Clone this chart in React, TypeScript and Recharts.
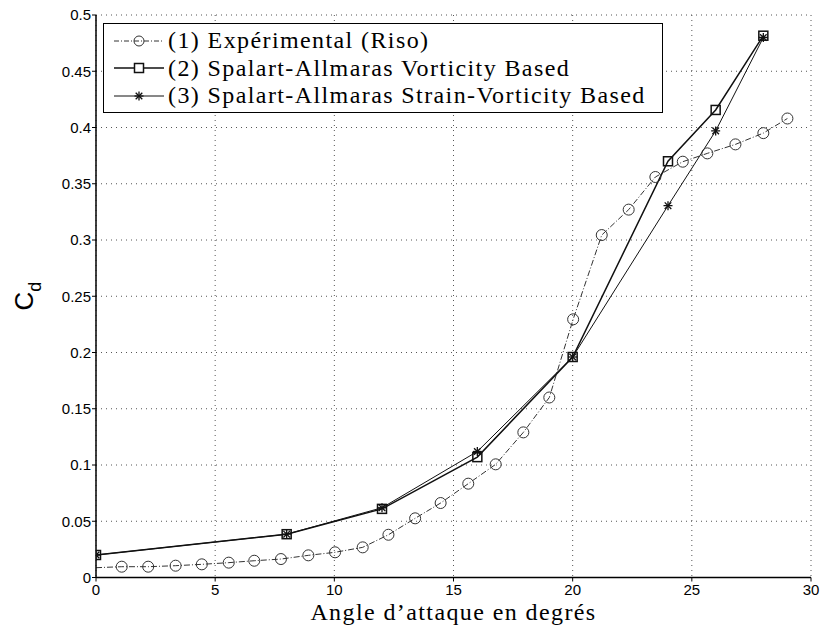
import React from 'react';
import { LineChart, Line, XAxis, YAxis, CartesianGrid } from 'recharts';

const expX = [0, 1.08, 2.19, 3.34, 4.44, 5.57, 6.64, 7.76, 8.91, 10.03, 11.19, 12.27, 13.39, 14.46, 15.62, 16.77, 17.93, 19.02, 20.02, 21.22, 22.35, 23.47, 24.62, 25.65, 26.83, 28.0, 29.01];
const expY = [0.0087, 0.0096, 0.0096, 0.0105, 0.0117, 0.0132, 0.0149, 0.0164, 0.0197, 0.0224, 0.0268, 0.038, 0.0526, 0.0662, 0.0834, 0.1006, 0.129, 0.16, 0.2295, 0.3044, 0.327, 0.356, 0.3696, 0.377, 0.385, 0.395, 0.408];
const saX = [0, 8, 12, 16, 20, 24, 26, 28];
const vortY = [0.02, 0.0385, 0.061, 0.107, 0.196, 0.37, 0.4156, 0.4816];
const strainY = [0.02, 0.0385, 0.062, 0.112, 0.196, 0.3305, 0.397, 0.48];
const xTicks = [0, 5, 10, 15, 20, 25, 30];
const yTicks = [0, 0.05, 0.1, 0.15, 0.2, 0.25, 0.3, 0.35, 0.4, 0.45, 0.5];
const legendLabels = [
  '(1) Expérimental (Riso)',
  '(2) Spalart-Allmaras Vorticity Based',
  '(3) Spalart-Allmaras Strain-Vorticity Based',
];

const expData = expX.map((x, i) => ({ x, y: expY[i] }));
const vortData = saX.map((x, i) => ({ x, y: vortY[i] }));
const strainData = saX.map((x, i) => ({ x, y: strainY[i] }));

const SERIF = "'Liberation Serif', 'Times New Roman', serif";
const SANS = "'Liberation Sans', Arial, sans-serif";

const CircleDot = (props: any) => {
  const { cx, cy, index } = props;
  if (index === 0 || cx == null) return <g key={`c${index}`} />;
  return <circle key={`c${index}`} cx={cx} cy={cy} r={5.5} fill="none" stroke="#333" strokeWidth={1} />;
};
const SquareDot = (props: any) => {
  const { cx, cy, index } = props;
  if (cx == null) return <g key={`s${index}`} />;
  return <rect key={`s${index}`} x={cx - 4.5} y={cy - 4.5} width={9} height={9} fill="none" stroke="#111" strokeWidth={1.5} />;
};
const Star = ({ cx, cy, k }: any) => (
  <g key={k} stroke="#111" strokeWidth={1.3}>
    <line x1={cx - 4.5} y1={cy} x2={cx + 4.5} y2={cy} />
    <line x1={cx} y1={cy - 4.5} x2={cx} y2={cy + 4.5} />
    <line x1={cx - 3.3} y1={cy - 3.3} x2={cx + 3.3} y2={cy + 3.3} />
    <line x1={cx - 3.3} y1={cy + 3.3} x2={cx + 3.3} y2={cy - 3.3} />
  </g>
);
const StarDot = (props: any) => {
  const { cx, cy, index } = props;
  if (cx == null) return <g key={`t${index}`} />;
  return <Star cx={cx} cy={cy} k={`t${index}`} />;
};

const XLabel = (props: any) => {
  const vb = props.viewBox || {};
  return (
    <text x={vb.x + vb.width / 2} y={vb.y + 42} textAnchor="middle" fontFamily={SERIF} fontSize={24} letterSpacing={1.4} fill="#000">
      Angle d’attaque en degrés
    </text>
  );
};
const YLabel = () => (
  <text x={33} y={296} transform="rotate(-90, 33, 296)" textAnchor="middle" fontFamily={SANS} fontSize={26} fill="#000">
    C<tspan fontSize={18} dy={8}>d</tspan>
  </text>
);

const LegendBox = () => {
  const rows = [
    (
      <svg width={50} height={14}>
        <line x1={0} y1={7} x2={50} y2={7} stroke="#333" strokeWidth={1} strokeDasharray="5 2 1 2" />
        <circle cx={25} cy={7} r={5} fill="none" stroke="#333" />
      </svg>
    ),
    (
      <svg width={50} height={14}>
        <line x1={0} y1={7} x2={50} y2={7} stroke="#111" strokeWidth={1.5} />
        <rect x={20.5} y={2.5} width={9} height={9} fill="white" stroke="#111" strokeWidth={1.5} />
      </svg>
    ),
    (
      <svg width={50} height={14}>
        <line x1={0} y1={7} x2={50} y2={7} stroke="#111" strokeWidth={1} />
        <Star cx={25} cy={7} k="ls" />
      </svg>
    ),
  ];
  return (
    <div
      style={{
        position: 'absolute',
        left: 103,
        top: 23,
        width: 558,
        height: 88,
        border: '1.5px solid #000',
        background: '#fff',
        fontFamily: SERIF,
        fontSize: 24,
        letterSpacing: 1.4,
        color: '#000',
        boxSizing: 'content-box',
      }}
    >
      {legendLabels.map((t, i) => (
        <div key={t} style={{ position: 'absolute', left: 10, top: 3 + i * 27.5, height: 27, display: 'flex', alignItems: 'center', whiteSpace: 'nowrap' }}>
          {rows[i]}
          <span style={{ marginLeft: 4 }}>{t}</span>
        </div>
      ))}
    </div>
  );
};

export default function App() {
  return (
    <div style={{ position: 'absolute', left: 0, top: 0, width: 822, height: 631, background: '#fff' }}>
      <LineChart width={822} height={631} margin={{ top: 15, right: 11, bottom: 0, left: 0 }}>
        <CartesianGrid stroke="#555" strokeDasharray="1 4" />
        <XAxis
          dataKey="x"
          type="number"
          domain={[0, 30]}
          ticks={xTicks}
          height={53.5}
          tickSize={4}
          tickMargin={3}
          axisLine={{ stroke: '#000', strokeWidth: 1.5 }}
          tickLine={{ stroke: '#000' }}
          tick={{ fill: '#000', fontFamily: SANS, fontSize: 15 }}
          label={<XLabel />}
          allowDataOverflow
        />
        <YAxis
          type="number"
          domain={[0, 0.5]}
          ticks={yTicks}
          width={96}
          tickSize={4}
          tickMargin={1}
          axisLine={{ stroke: '#000', strokeWidth: 1.5 }}
          tickLine={{ stroke: '#000' }}
          tick={{ fill: '#000', fontFamily: SANS, fontSize: 15 }}
          label={<YLabel />}
          allowDataOverflow
        />
        <Line data={expData} dataKey="y" stroke="#333" strokeWidth={1} strokeDasharray="6 2 1 2" dot={CircleDot} isAnimationActive={false} />
        <Line data={vortData} dataKey="y" stroke="#111" strokeWidth={1.5} dot={SquareDot} isAnimationActive={false} />
        <Line data={strainData} dataKey="y" stroke="#111" strokeWidth={1} dot={StarDot} isAnimationActive={false} />
      </LineChart>
      <LegendBox />
    </div>
  );
}
